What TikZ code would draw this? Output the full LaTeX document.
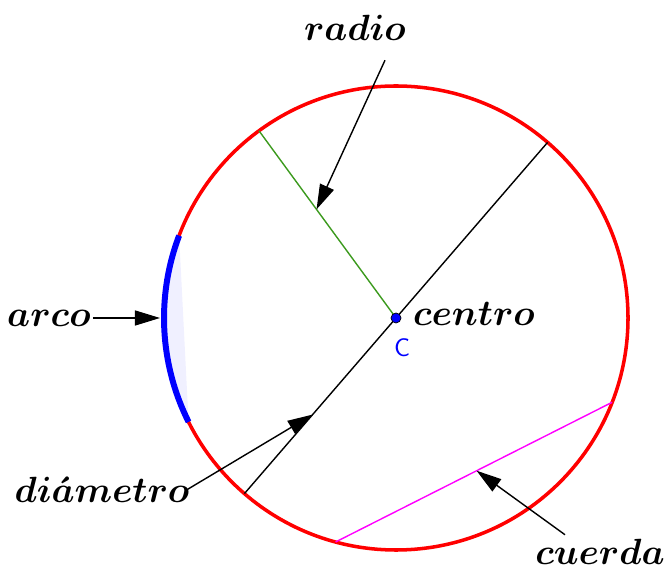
\documentclass[tikz,border=0pt]{standalone}
\usepackage{amsmath}
\usepackage{bm}
\usepackage{tikz}
\usetikzlibrary{arrows.meta,calc,positioning}
\definecolor{Rim}{HTML}{FF0000}
\definecolor{Arc}{HTML}{0000FF}
\definecolor{Ray}{HTML}{3C9A1E}
\definecolor{Chord}{HTML}{FF00FF}
\tikzset{
  lbl/.style={font=\huge, inner sep=1pt},
  flecha/.style={->, line width=0.8pt},
}

\begin{document}
\begin{tikzpicture}[>={Triangle[length=5mm,width=3mm]}]
    \useasboundingbox (-7.92,-5.02) rectangle (5.40,6.36);
    \def\R{4.64}
    % points on the circle
    \coordinate (C) at (0,0);
    \foreach \n/\a in {r/126.2,d1/49.2,d2/229.2,a1/159.2,a2/206.6,c1/254.9,c2/338.7} {
      \coordinate (\n) at (\a:\R);
    }
    \coordinate (aw) at (180:4.72);
    \coordinate (cmid) at ($(c1)!0.51!(c2)$);
    \fill[Arc!6] (a1) arc[start angle=159.2, end angle=206.6, radius=\R] -- cycle;
    \draw[Rim, line width=2pt] (C) circle[radius=\R];
    \draw[Arc, line width=3.4pt] (a1) arc[start angle=159.2, end angle=206.6, radius=\R];
    \draw[Ray, line width=0.8pt] (C) -- (r);
    \draw[line width=0.8pt] (d1) -- (d2);
    \draw[Chord, line width=0.8pt] (c1) -- (c2);
    \node[circle, fill=Arc, draw=black, inner sep=0pt, minimum size=0.2cm] (dot) at (C) {};
    % labels
    \node[lbl] (radio) at (-0.82,5.80) {$\bm{radio}$};
    \node[lbl] (arco) at (-6.94,0) {$\bm{arco}$};
    \node[lbl] (diam) at (-5.88,-3.44) {$\bm{di\acute{a}metro}$};
    \node[lbl, anchor=west] (centro) at (0.30,0.08) {$\bm{centro}$};
    \node[font=\Large\sffamily, text=Arc] (cname) at (0.12,-0.60) {C};
    \node[lbl] (cuerda) at (4.08,-4.68) {$\bm{cuerda}$};
    % arrows
    \draw[flecha] ([shift={(0.6,-0.35)}]radio.south) -- ($(C)!0.58!(r)$);
    \draw[flecha] (arco.east) -- (arco.east -| aw);
    \draw[flecha] ([xshift=-0.1cm]diam.east) -- ($(C)!0.55!(d2)$);
    \draw[flecha] ([shift={(-0.7,0.05)}]cuerda.north) -- (cmid);
\end{tikzpicture}
\end{document}
